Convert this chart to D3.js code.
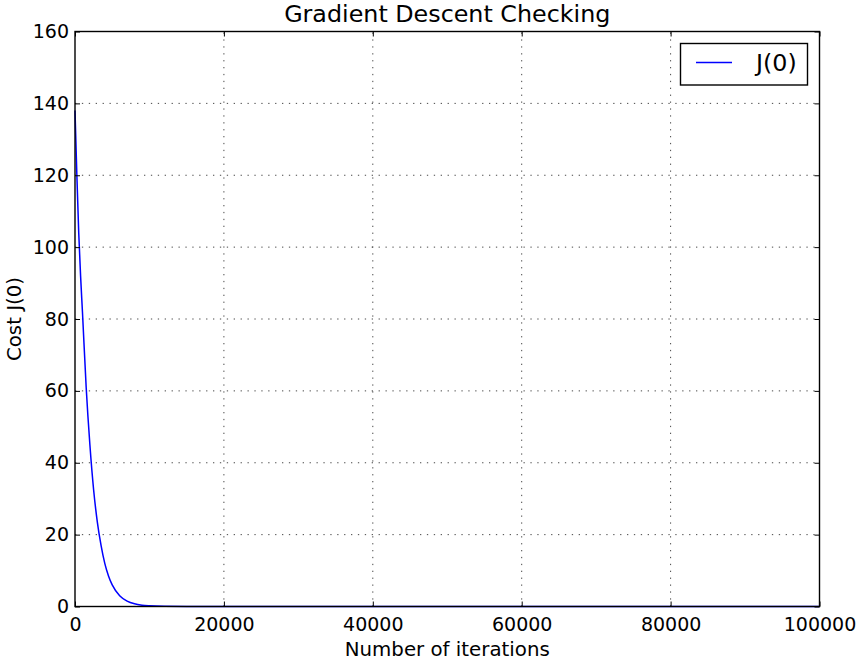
<!DOCTYPE html>
<html>
<head>
<meta charset="utf-8">
<script src="https://cdn.jsdelivr.net/npm/d3@7"></script>
<style>
  html, body { margin: 0; padding: 0; background: #fff; }
  svg { display: block; }
  text { font-family: "DejaVu Sans", sans-serif; fill: #000; }
</style>
</head>
<body>
<svg id="chart" width="856" height="662"></svg>
<script>
// Cost per iteration of the gradient descent run
const iterations = [0, 250, 500, 750, 1000, 1500, 2000, 2500, 3000, 3500, 4000, 4500,
                    5000, 6000, 7000, 8000, 9000, 10000, 12000, 15000, 20000, 100000];
const cost = [138, 120, 104, 92, 82, 61, 45, 32.5, 23.5, 17, 12, 8.5,
              6, 3.0, 1.5, 0.75, 0.38, 0.2, 0.05, 0.01, 0, 0];

const xTicks = [0, 20000, 40000, 60000, 80000, 100000];
const yTicks = [0, 20, 40, 60, 80, 100, 120, 140, 160];

const seriesName = "J(0)";
const titleText = "Gradient Descent Checking";
const xLabelText = "Number of iterations";
const yLabelText = "Cost J(0)";

const svg = d3.select("#chart");
const L = 75, R = 819.5, T = 31.5, B = 606.5;

const x = d3.scaleLinear().domain([0, 100000]).range([L, R]);
const y = d3.scaleLinear().domain([0, 160]).range([B, T]);

// grid
const grid = svg.append("g")
  .attr("stroke", "#333").attr("stroke-width", 0.9)
  .attr("stroke-dasharray", "1.3,5.6");
grid.selectAll("line.gx").data(xTicks.slice(1, -1)).join("line")
  .attr("x1", d => x(d)).attr("x2", d => x(d)).attr("y1", B).attr("y2", T);
grid.selectAll("line.gy").data(yTicks.slice(1, -1)).join("line")
  .attr("y1", d => y(d)).attr("y2", d => y(d)).attr("x1", L).attr("x2", R);

// cost curve
const line = d3.line().x((d, i) => x(iterations[i])).y(d => y(d)).curve(d3.curveMonotoneX);
svg.append("path").datum(cost)
  .attr("d", line).attr("fill", "none")
  .attr("stroke", "#0000ff").attr("stroke-width", 1.5);

// axes (ticks point inward on all four sides)
const fmt = d3.format("d");
const axBottom = d3.axisBottom(x).tickValues(xTicks).tickFormat(fmt).tickSizeInner(-5).tickSizeOuter(0).tickPadding(11);
const axLeft = d3.axisLeft(y).tickValues(yTicks).tickFormat(fmt).tickSizeInner(-5).tickSizeOuter(0).tickPadding(6);
const axTop = d3.axisTop(x).tickValues(xTicks).tickFormat("").tickSizeInner(-5).tickSizeOuter(0);
const axRight = d3.axisRight(y).tickValues(yTicks).tickFormat("").tickSizeInner(-5).tickSizeOuter(0);

function style(g) {
  g.select(".domain").remove();
  g.selectAll(".tick line").attr("stroke", "#000").attr("stroke-width", 1);
  g.selectAll(".tick text").attr("font-size", "19px").attr("font-family", "DejaVu Sans, sans-serif").attr("fill", "#111");
}
svg.append("g").attr("transform", `translate(0,${B})`).call(axBottom).call(style);
svg.append("g").attr("transform", `translate(${L},0)`).call(axLeft).call(style);
svg.append("g").attr("transform", `translate(0,${T})`).call(axTop).call(style);
svg.append("g").attr("transform", `translate(${R},0)`).call(axRight).call(style);

// frame
svg.append("rect").attr("x", L).attr("y", T).attr("width", R - L).attr("height", B - T)
  .attr("fill", "none").attr("stroke", "#000").attr("stroke-width", 1.4);

// title and axis labels
svg.append("text").attr("x", (L + R) / 2).attr("y", 22).attr("text-anchor", "middle")
  .attr("font-size", "23.8px").attr("fill", "#111").text(titleText);
svg.append("text").attr("x", (L + R) / 2).attr("y", 656).attr("text-anchor", "middle")
  .attr("font-size", "19.8px").attr("fill", "#111").text(xLabelText);
svg.append("text").attr("transform", `translate(21,${(T + B) / 2}) rotate(-90)`)
  .attr("text-anchor", "middle").attr("font-size", "19.8px").attr("fill", "#111").text(yLabelText);

// legend
const lg = svg.append("g");
lg.append("rect").attr("x", 680.5).attr("y", 43.5).attr("width", 127).attr("height", 41.5)
  .attr("fill", "#fff").attr("stroke", "#000").attr("stroke-width", 1.4);
lg.append("line").attr("x1", 696).attr("x2", 732).attr("y1", 62.5).attr("y2", 62.5)
  .attr("stroke", "#0000ff").attr("stroke-width", 1.5);
lg.append("text").attr("x", 756).attr("y", 71).attr("font-size", "23.8px").attr("fill", "#111").text(seriesName);
</script>
</body>
</html>
